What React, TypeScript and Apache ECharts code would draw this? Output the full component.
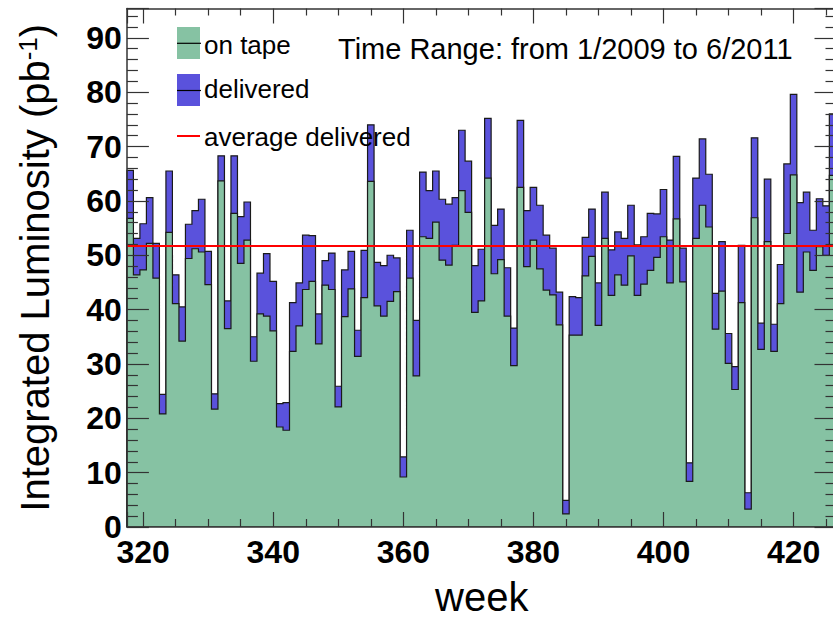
import React, { useEffect, useRef } from "react";
import * as echarts from "echarts";

// ---- data ----
const weeks = [
  318, 319, 320, 321, 322, 323, 324, 325, 326, 327, 328, 329, 330, 331, 332, 333, 334, 335, 336, 337,
  338, 339, 340, 341, 342, 343, 344, 345, 346, 347, 348, 349, 350, 351, 352, 353, 354, 355, 356, 357,
  358, 359, 360, 361, 362, 363, 364, 365, 366, 367, 368, 369, 370, 371, 372, 373, 374, 375, 376, 377,
  378, 379, 380, 381, 382, 383, 384, 385, 386, 387, 388, 389, 390, 391, 392, 393, 394, 395, 396, 397,
  398, 399, 400, 401, 402, 403, 404, 405, 406, 407, 408, 409, 410, 411, 412, 413, 414, 415, 416, 417,
  418, 419, 420, 421, 422, 423, 424, 425, 426,
];

const delivered = [
  65.6, 53.1, 55.8, 60.6, 52.2, 24.4, 65.5, 46.4, 40.5, 55.7, 58.2, 60.3, 50.7, 24.5, 68.3, 41.6, 68.3, 57.1, 59.8, 35.0,
  46.7, 50.3, 45.2, 22.7, 22.9, 41.3, 44.9, 53.7, 53.6, 39.2, 49.0, 50.4, 25.9, 47.3, 50.7, 36.2, 50.9, 74.0, 48.7, 48.1,
  50.0, 49.5, 12.9, 54.6, 38.0, 65.3, 61.9, 65.5, 60.3, 59.4, 60.6, 73.0, 67.3, 48.1, 51.1, 75.2, 55.5, 58.5, 47.7, 36.6,
  74.8, 58.2, 62.5, 59.2, 53.7, 51.3, 43.2, 4.9, 42.4, 42.2, 53.3, 58.5, 44.9, 61.6, 51.0, 54.3, 53.1, 59.2, 51.9, 53.4,
  57.7, 57.6, 62.1, 52.8, 68.2, 51.3, 11.8, 64.2, 71.4, 64.9, 43.0, 52.5, 35.6, 29.5, 51.8, 6.3, 71.6, 37.5, 64.0, 37.3,
  48.3, 66.8, 79.6, 59.7, 61.6, 54.6, 60.4, 59.1, 76.0,
];

const onTape = [
  56.8, 46.4, 47.3, 52.2, 45.8, 20.8, 54.2, 41.1, 34.2, 49.4, 51.2, 50.6, 44.6, 21.7, 63.7, 36.5, 57.7, 48.5, 52.8, 30.5,
  39.2, 38.8, 36.1, 18.4, 17.8, 32.3, 37.0, 43.7, 45.2, 33.7, 44.5, 43.7, 22.1, 38.7, 43.8, 31.4, 42.2, 63.6, 40.7, 38.8,
  41.5, 43.3, 9.2, 45.8, 27.8, 53.4, 53.1, 56.1, 49.1, 48.2, 51.8, 61.9, 57.9, 39.5, 41.6, 64.2, 46.6, 49.2, 38.8, 29.7,
  62.5, 47.9, 52.8, 47.5, 43.6, 42.7, 37.2, 2.4, 35.3, 35.3, 46.2, 49.8, 37.1, 53.1, 42.6, 46.4, 44.5, 49.9, 42.6, 44.7,
  47.2, 49.6, 53.4, 44.9, 56.7, 45.1, 8.4, 53.1, 59.2, 55.2, 36.4, 43.4, 30.1, 25.3, 41.3, 3.3, 56.9, 32.7, 52.5, 32.3,
  41.1, 54.0, 64.8, 43.2, 50.6, 47.2, 51.6, 50.0, 64.7,
];

const averageDelivered = 51.7;

const X_MIN = 317.5;
const X_MAX = 426.6;
const Y_MAX = 95.4;

const GREEN = "#86c2a3";
const BLUE = "#5a52dc";
const FONT = '"Liberation Sans", Arial, Helvetica, sans-serif';

function histRenderer(values: number[], fill: string) {
  return (params: any, api: any) => {
    const pts: number[][] = [];
    pts.push(api.coord([weeks[0] - 0.5, 0]));
    for (let i = 0; i < weeks.length; i++) {
      pts.push(api.coord([weeks[i] - 0.5, values[i]]));
      pts.push(api.coord([weeks[i] + 0.5, values[i]]));
    }
    pts.push(api.coord([weeks[weeks.length - 1] + 0.5, 0]));
    return {
      type: "polygon",
      shape: { points: pts },
      style: { fill, stroke: "#1a1a1a", lineWidth: 1.2, lineJoin: "miter" },
    };
  };
}

export default function App() {
  const ref = useRef<HTMLDivElement>(null);

  useEffect(() => {
    if (!ref.current) return;
    const chart = echarts.init(ref.current, undefined, { renderer: "svg" });

    const axisLineStyle = { color: "#333", width: 1.5 };
    const commonX = {
      type: "value",
      min: X_MIN,
      max: X_MAX,
      minInterval: 20,
      maxInterval: 20,
      splitLine: { show: false },
      z: 10,
    };
    const commonY = {
      type: "value",
      min: 0,
      max: Y_MAX,
      interval: 10,
      splitLine: { show: false },
      z: 10,
    };

    chart.setOption({
      animation: false,
      backgroundColor: "#ffffff",
      grid: { left: 126.9, top: 8.5, width: 709.6, height: 531.5, containLabel: false },
      xAxis: [
        {
          ...commonX,
          position: "bottom",
          axisLine: { show: true, onZero: false, lineStyle: axisLineStyle },
          axisTick: { show: true, inside: true, length: 15, lineStyle: { color: "#333", width: 1.2 } },
          minorTick: { show: true, splitNumber: 4, length: 8, lineStyle: { color: "#333", width: 1.2 } },
          axisLabel: {
            show: true,
            margin: 9,
            showMinLabel: false,
            showMaxLabel: false,
            fontFamily: FONT,
            fontWeight: "bold",
            fontSize: 32,
            color: "#000",
          },
          name: "week",
          nameLocation: "middle",
          nameGap: 50,
          nameTextStyle: { fontFamily: FONT, fontSize: 40, color: "#000", verticalAlign: "top" },
        },
        {
          ...commonX,
          position: "top",
          axisLine: { show: true, onZero: false, lineStyle: axisLineStyle },
          axisTick: { show: true, inside: true, length: 15, lineStyle: { color: "#333", width: 1.2 } },
          minorTick: { show: true, splitNumber: 4, length: 7, lineStyle: { color: "#333", width: 1.2 } },
          axisLabel: { show: false },
        },
      ],
      yAxis: [
        {
          ...commonY,
          position: "left",
          axisLine: { show: true, onZero: false, lineStyle: axisLineStyle },
          axisTick: { show: true, inside: true, length: 22, lineStyle: { color: "#333", width: 1.2 } },
          minorTick: { show: true, splitNumber: 5, length: 11, lineStyle: { color: "#333", width: 1.2 } },
          axisLabel: {
            show: true,
            margin: 5,
            showMaxLabel: false,
            fontFamily: FONT,
            fontWeight: "bold",
            fontSize: 32,
            color: "#000",
          },
          name: "Integrated Luminosity (pb{sup|-1})",
          nameLocation: "middle",
          nameGap: 72,
          nameRotate: 90,
          nameTextStyle: {
            fontFamily: FONT,
            fontSize: 40,
            color: "#000",
            rich: {
              sup: { fontFamily: FONT, fontSize: 26, color: "#000", verticalAlign: "top" },
            },
          },
        },
        {
          ...commonY,
          position: "right",
          axisLine: { show: true, onZero: false, lineStyle: axisLineStyle },
          axisTick: { show: true, inside: true, length: 22, lineStyle: { color: "#333", width: 1.2 } },
          minorTick: { show: true, splitNumber: 5, length: 11, lineStyle: { color: "#333", width: 1.2 } },
          axisLabel: { show: false },
        },
      ],
      series: [
        {
          name: "delivered",
          type: "custom",
          xAxisIndex: 0,
          yAxisIndex: 0,
          renderItem: histRenderer(delivered, BLUE),
          data: [[weeks[0], delivered[0]]],
          clip: true,
          silent: true,
          z: 2,
        },
        {
          name: "on tape",
          type: "custom",
          xAxisIndex: 0,
          yAxisIndex: 0,
          renderItem: histRenderer(onTape, GREEN),
          data: [[weeks[0], onTape[0]]],
          clip: true,
          silent: true,
          z: 3,
          markLine: {
            silent: true,
            symbol: "none",
            label: { show: false },
            lineStyle: { color: "#ff0000", width: 2, type: "solid" },
            data: [{ yAxis: averageDelivered }],
            z: 5,
          },
        },
      ],
      graphic: [
        { type: "rect", shape: { x: 177, y: 27, width: 23, height: 32 }, style: { fill: GREEN }, z: 20 },
        { type: "line", shape: { x1: 177, y1: 43.3, x2: 201, y2: 43.3 }, style: { stroke: "#000", lineWidth: 1.2 }, z: 21 },
        {
          type: "text", x: 204, y: 45, z: 21,
          style: { text: "on tape", fontFamily: FONT, fontSize: 26, fill: "#000", verticalAlign: "middle" },
        },
        { type: "rect", shape: { x: 177, y: 74, width: 23, height: 32 }, style: { fill: BLUE }, z: 20 },
        { type: "line", shape: { x1: 177, y1: 90.5, x2: 201, y2: 90.5 }, style: { stroke: "#000", lineWidth: 1.2 }, z: 21 },
        {
          type: "text", x: 204, y: 89, z: 21,
          style: { text: "delivered", fontFamily: FONT, fontSize: 26, fill: "#000", verticalAlign: "middle" },
        },
        { type: "line", shape: { x1: 177, y1: 136, x2: 200, y2: 136 }, style: { stroke: "#ff0000", lineWidth: 2 }, z: 21 },
        {
          type: "text", x: 204, y: 137, z: 21,
          style: { text: "average delivered", fontFamily: FONT, fontSize: 26, fill: "#000", verticalAlign: "middle" },
        },
        {
          type: "text", x: 338, y: 49, z: 21,
          style: { text: "Time Range: from 1/2009 to 6/2011", fontFamily: FONT, fontSize: 29, fill: "#000", verticalAlign: "middle" },
        },
      ],
    });

    return () => chart.dispose();
  }, []);

  return (
    <div style={{ position: "absolute", left: 0, top: 0, width: 833, height: 622, overflow: "hidden", background: "#fff" }}>
      <div ref={ref} style={{ width: 840, height: 622 }} />
    </div>
  );
}
